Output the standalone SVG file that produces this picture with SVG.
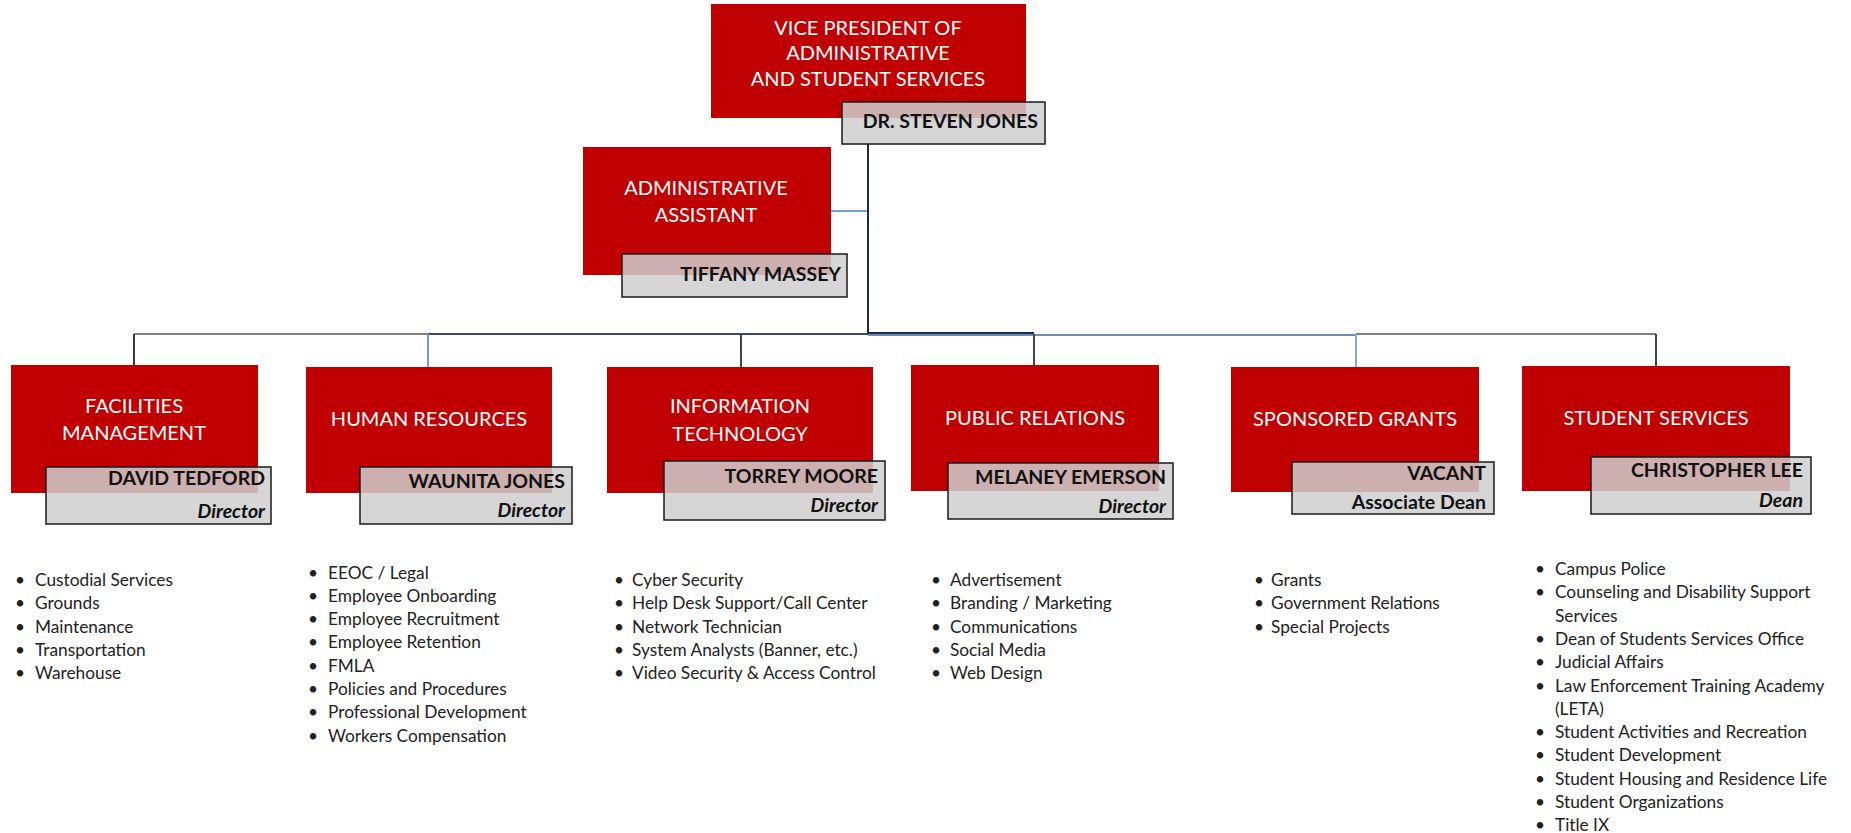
<svg xmlns="http://www.w3.org/2000/svg" width="1851" height="833" viewBox="0 0 1851 833">
<style>
.red{fill:#c00000}
.gray{fill:#cfcfcf;fill-opacity:0.85;stroke:#1a1a1a;stroke-width:1.5}
.t{font-family:Lato,"Open Sans",sans-serif;font-size:20px;fill:#ffffff;text-anchor:middle}
.n{font-family:Lato,"Open Sans",sans-serif;font-size:19.5px;font-weight:bold;fill:#111111;text-anchor:end}
.r{font-family:Lato,"Open Sans",sans-serif;font-size:19.5px;font-weight:bold;font-style:italic;fill:#111111;text-anchor:end}
.l{font-family:Lato,"Open Sans",sans-serif;font-size:17.3px;fill:#222222}
.c{fill:none;stroke-width:2}
</style>
<g id="connectors">
<line class="c" x1="831" y1="211" x2="868" y2="211" stroke="#7a9bd0"/>
<line class="c" x1="134" y1="334" x2="428" y2="334" stroke="#808080"/>
<line class="c" x1="428" y1="334" x2="868" y2="334" stroke="#3b4a66"/>
<line class="c" x1="868" y1="335" x2="1356" y2="335" stroke="#6a8cc4"/>
<line class="c" x1="868" y1="333" x2="1034" y2="333" stroke="#1f2a44"/>
<line class="c" x1="1356" y1="334" x2="1656" y2="334" stroke="#808080"/>
<line class="c" x1="868" y1="144" x2="868" y2="334" stroke="#1f2a44" stroke-width="2.5"/>
<line class="c" x1="134" y1="334" x2="134" y2="365" stroke="#3a3a3a"/>
<line class="c" x1="428" y1="334" x2="428" y2="367" stroke="#7b9bd0"/>
<line class="c" x1="741" y1="334" x2="741" y2="367" stroke="#444444"/>
<line class="c" x1="1034" y1="334" x2="1034" y2="365" stroke="#444444"/>
<line class="c" x1="1356" y1="334" x2="1356" y2="367" stroke="#8aa6d4"/>
<line class="c" x1="1656" y1="334" x2="1656" y2="366" stroke="#444444"/>
</g>
<g id="vp">
<rect class="red" x="711" y="4" width="315" height="114"/>
<text class="t" x="868" y="35">VICE PRESIDENT OF</text>
<text class="t" x="868" y="60">ADMINISTRATIVE</text>
<text class="t" x="868" y="86">AND STUDENT SERVICES</text>
<rect class="gray" x="842" y="102" width="203" height="42"/>
<text class="n" x="1038" y="128">DR. STEVEN JONES</text>
</g>
<g id="admin">
<rect class="red" x="583" y="147" width="248" height="128"/>
<text class="t" x="706" y="195">ADMINISTRATIVE</text>
<text class="t" x="706" y="222">ASSISTANT</text>
<rect class="gray" x="622" y="254" width="225" height="43"/>
<text class="n" x="841" y="281">TIFFANY MASSEY</text>
</g>
<g id="facilities">
<rect class="red" x="11" y="365" width="247" height="128"/>
<text class="t" x="134" y="413">FACILITIES</text>
<text class="t" x="134" y="440">MANAGEMENT</text>
<rect class="gray" x="46" y="467" width="225" height="57"/>
<text class="n" x="265" y="485">DAVID TEDFORD</text>
<text class="r" x="265" y="518">Director</text>
<g class="l">
<text x="15" y="586">•</text><text x="35" y="586">Custodial Services</text>
<text x="15" y="609.3">•</text><text x="35" y="609.3">Grounds</text>
<text x="15" y="632.6">•</text><text x="35" y="632.6">Maintenance</text>
<text x="15" y="655.9">•</text><text x="35" y="655.9">Transportation</text>
<text x="15" y="679.2">•</text><text x="35" y="679.2">Warehouse</text>
</g>
</g>
<g id="hr">
<rect class="red" x="306" y="367" width="246" height="126"/>
<text class="t" x="429" y="426">HUMAN RESOURCES</text>
<rect class="gray" x="360" y="467" width="212" height="57"/>
<text class="n" x="565" y="488">WAUNITA JONES</text>
<text class="r" x="565" y="517">Director</text>
<g class="l">
<text x="308" y="578.5">•</text><text x="328" y="578.5">EEOC / Legal</text>
<text x="308" y="601.8">•</text><text x="328" y="601.8">Employee Onboarding</text>
<text x="308" y="625.1">•</text><text x="328" y="625.1">Employee Recruitment</text>
<text x="308" y="648.4">•</text><text x="328" y="648.4">Employee Retention</text>
<text x="308" y="671.7">•</text><text x="328" y="671.7">FMLA</text>
<text x="308" y="695">•</text><text x="328" y="695">Policies and Procedures</text>
<text x="308" y="718.3">•</text><text x="328" y="718.3">Professional Development</text>
<text x="308" y="741.6">•</text><text x="328" y="741.6">Workers Compensation</text>
</g>
</g>
<g id="it">
<rect class="red" x="607" y="367" width="266" height="126"/>
<text class="t" x="740" y="413">INFORMATION</text>
<text class="t" x="740" y="441">TECHNOLOGY</text>
<rect class="gray" x="664" y="461" width="221" height="59"/>
<text class="n" x="878" y="483">TORREY MOORE</text>
<text class="r" x="878" y="512">Director</text>
<g class="l">
<text x="614" y="586">•</text><text x="632" y="586">Cyber Security</text>
<text x="614" y="609.3">•</text><text x="632" y="609.3">Help Desk Support/Call Center</text>
<text x="614" y="632.6">•</text><text x="632" y="632.6">Network Technician</text>
<text x="614" y="655.9">•</text><text x="632" y="655.9">System Analysts (Banner, etc.)</text>
<text x="614" y="679.2">•</text><text x="632" y="679.2">Video Security &amp; Access Control</text>
</g>
</g>
<g id="pr">
<rect class="red" x="911" y="365" width="248" height="126"/>
<text class="t" x="1035" y="425">PUBLIC RELATIONS</text>
<rect class="gray" x="948" y="463" width="225" height="56"/>
<text class="n" x="1166" y="484">MELANEY EMERSON</text>
<text class="r" x="1166" y="513">Director</text>
<g class="l">
<text x="931" y="586">•</text><text x="950" y="586">Advertisement</text>
<text x="931" y="609.3">•</text><text x="950" y="609.3">Branding / Marketing</text>
<text x="931" y="632.6">•</text><text x="950" y="632.6">Communications</text>
<text x="931" y="655.9">•</text><text x="950" y="655.9">Social Media</text>
<text x="931" y="679.2">•</text><text x="950" y="679.2">Web Design</text>
</g>
</g>
<g id="grants">
<rect class="red" x="1231" y="367" width="248" height="125"/>
<text class="t" x="1355" y="426">SPONSORED GRANTS</text>
<rect class="gray" x="1292" y="462" width="202" height="52"/>
<text class="n" x="1486" y="480">VACANT</text>
<text class="n" x="1486" y="509">Associate Dean</text>
<g class="l">
<text x="1254" y="586">•</text><text x="1271" y="586">Grants</text>
<text x="1254" y="609.3">•</text><text x="1271" y="609.3">Government Relations</text>
<text x="1254" y="632.6">•</text><text x="1271" y="632.6">Special Projects</text>
</g>
</g>
<g id="student">
<rect class="red" x="1522" y="366" width="268" height="125"/>
<text class="t" x="1656" y="425">STUDENT SERVICES</text>
<rect class="gray" x="1591" y="457" width="220" height="57"/>
<text class="n" x="1803" y="477">CHRISTOPHER LEE</text>
<text class="r" x="1803" y="507">Dean</text>
<g class="l">
<text x="1535" y="575">•</text><text x="1555" y="575">Campus Police</text>
<text x="1535" y="598.3">•</text><text x="1555" y="598.3">Counseling and Disability Support</text>
<text x="1555" y="621.6">Services</text>
<text x="1535" y="644.9">•</text><text x="1555" y="644.9">Dean of Students Services Office</text>
<text x="1535" y="668.2">•</text><text x="1555" y="668.2">Judicial Affairs</text>
<text x="1535" y="691.5">•</text><text x="1555" y="691.5">Law Enforcement Training Academy</text>
<text x="1555" y="714.8">(LETA)</text>
<text x="1535" y="738.1">•</text><text x="1555" y="738.1">Student Activities and Recreation</text>
<text x="1535" y="761.4">•</text><text x="1555" y="761.4">Student Development</text>
<text x="1535" y="784.7">•</text><text x="1555" y="784.7">Student Housing and Residence Life</text>
<text x="1535" y="808">•</text><text x="1555" y="808">Student Organizations</text>
<text x="1535" y="831.3">•</text><text x="1555" y="831.3">Title IX</text>
</g>
</g>
</svg>
